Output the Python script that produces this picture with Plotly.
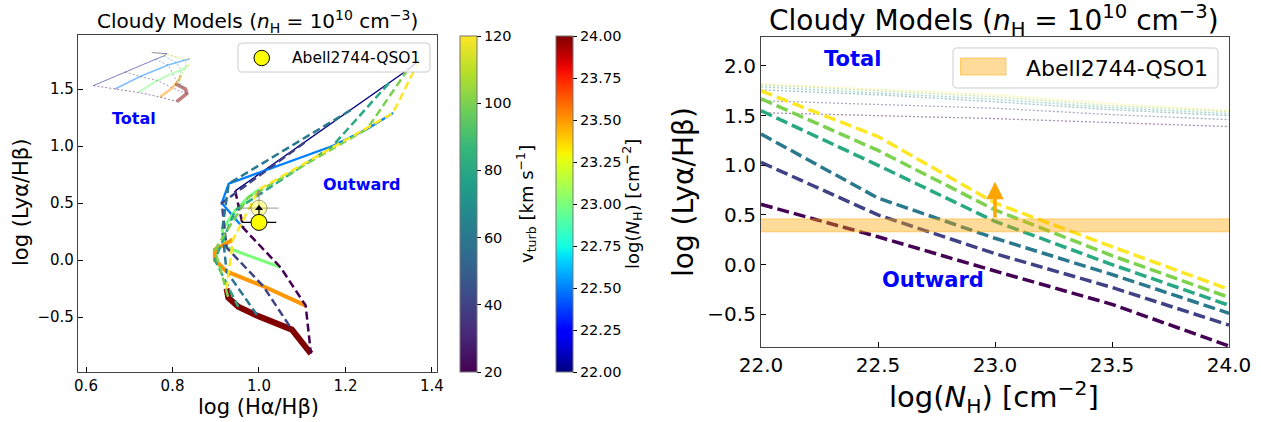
import numpy as np
import plotly.graph_objects as go

W, H = 1261, 422

# ---------------- data ----------------
vturb = [20, 40, 60, 80, 100, 120]
log_nh = [22.0, 22.5, 23.0, 23.5, 24.0]

# Outward log(Lya/Hb) per vturb, along log_nh
lya_out_v20 = [0.607, 0.28, -0.065, -0.40, -0.82]
lya_out_v40 = [1.03, 0.50, 0.11, -0.23, -0.61]
lya_out_v60 = [1.315, 0.67, 0.265, -0.10, -0.49]
lya_out_v80 = [1.55, 1.00, 0.435, 0.0, -0.41]
lya_out_v100 = [1.67, 1.15, 0.55, 0.09, -0.33]
lya_out_v120 = [1.75, 1.29, 0.62, 0.18, -0.25]

# Outward log(Ha/Hb)
ha_out_v20 = [0.945, 0.964, 1.05, 1.108, 1.12]
ha_out_v40 = [1.105, 0.914, 0.925, 1.01, 1.076]
ha_out_v60 = [1.212, 0.93, 0.915, 0.925, 0.997]
ha_out_v80 = [1.30, 1.17, 0.945, 0.898, 0.952]
ha_out_v100 = [1.344, 1.25, 0.975, 0.898, 0.929]
ha_out_v120 = [1.37, 1.31, 1.0, 0.94, 0.925]

# Total log(Lya/Hb)
lya_tot_v20 = [1.53, 1.50, 1.47, 1.43, 1.39]
lya_tot_v40 = [1.65, 1.61, 1.575, 1.51, 1.46]
lya_tot_v60 = [1.76, 1.71, 1.64, 1.56, 1.50]
lya_tot_v80 = [1.79, 1.73, 1.665, 1.58, 1.52]
lya_tot_v100 = [1.81, 1.75, 1.69, 1.60, 1.54]
lya_tot_v120 = [1.82, 1.765, 1.71, 1.62, 1.55]

# Total log(Ha/Hb)
ha_tot_v20 = [0.617, 0.667, 0.721, 0.771, 0.81]
ha_tot_v40 = [0.69, 0.725, 0.765, 0.80, 0.833]
ha_tot_v60 = [0.76, 0.79, 0.80, 0.81, 0.83]
ha_tot_v80 = [0.78, 0.81, 0.82, 0.815, 0.82]
ha_tot_v100 = [0.787, 0.83, 0.83, 0.817, 0.81]
ha_tot_v120 = [0.752, 0.84, 0.837, 0.82, 0.81]

# Observation (Abell2744-QSO1)
obs_name = "Abell2744-QSO1"
obs_ha = [1.0, 1.0]
obs_ha_err = [0.04, 0.045]
obs_lya = [0.33, 0.455]
obs_lya_arrow = [0.455, 0.585]
obs_band = [0.33, 0.46]
obs_arrow_nh = 23.0
obs_arrow_top = 0.835

# tick labels
left_xticks = [0.6, 0.8, 1.0, 1.2, 1.4]
left_yticks = [-0.5, 0.0, 0.5, 1.0, 1.5]
right_xticks = [22.0, 22.5, 23.0, 23.5, 24.0]
right_yticks = [-0.5, 0.0, 0.5, 1.0, 1.5, 2.0]
vturb_ticks = [20, 40, 60, 80, 100, 120]
nh_ticks = [22.0, 22.25, 22.5, 22.75, 23.0, 23.25, 23.5, 23.75, 24.0]

lya_out = [lya_out_v20, lya_out_v40, lya_out_v60, lya_out_v80, lya_out_v100, lya_out_v120]
ha_out = [ha_out_v20, ha_out_v40, ha_out_v60, ha_out_v80, ha_out_v100, ha_out_v120]
lya_tot = [lya_tot_v20, lya_tot_v40, lya_tot_v60, lya_tot_v80, lya_tot_v100, lya_tot_v120]
ha_tot = [ha_tot_v20, ha_tot_v40, ha_tot_v60, ha_tot_v80, ha_tot_v100, ha_tot_v120]

# ---------------- colours ----------------
VIRIDIS = ["#440154", "#482878", "#3e4989", "#31688e", "#26828e", "#1f9e89",
           "#35b779", "#6ece58", "#b5de2b", "#fde725"]


def hex2rgb(h):
    return tuple(int(h[i:i + 2], 16) for i in (1, 3, 5))


def viridis(t):
    n = len(VIRIDIS) - 1
    p = t * n
    i = min(int(np.floor(p)), n - 1)
    f = p - i
    a, b = hex2rgb(VIRIDIS[i]), hex2rgb(VIRIDIS[i + 1])
    return tuple(a[k] + (b[k] - a[k]) * f for k in range(3))


def jet(t):
    r = np.interp(t, [0, 0.35, 0.66, 0.89, 1], [0, 0, 1, 1, 0.5])
    g = np.interp(t, [0, 0.125, 0.375, 0.64, 0.91, 1], [0, 0, 1, 1, 0, 0])
    b = np.interp(t, [0, 0.11, 0.34, 0.65, 1], [0.5, 1, 1, 0, 0])
    return (r * 255, g * 255, b * 255)


def rgba(c, a=1.0):
    return "rgba(%d,%d,%d,%.3f)" % (round(c[0]), round(c[1]), round(c[2]), a)


vcols = [viridis((v - 20) / 100) for v in vturb]
ncols = [jet((n - 22) / 2) for n in log_nh]
jet_scale = [[t, rgba(jet(t))] for t in np.linspace(0, 1, 41)]

FONT = "DejaVu Sans"

fig = go.Figure()

# ---------------- left panel ----------------
nh_w_out = [1.3, 2.3, 3.0, 4.0, 6.0]
nh_w_tot = [1.0, 1.6, 2.0, 2.6, 3.6]

# total grid (faded)
for j in range(len(log_nh)):
    fig.add_trace(go.Scatter(
        x=[ha_tot[i][j] for i in range(len(vturb))],
        y=[lya_tot[i][j] for i in range(len(vturb))],
        mode="lines", line=dict(color=rgba(ncols[j], 0.5), width=nh_w_tot[j]),
        showlegend=False, hoverinfo="skip", xaxis="x", yaxis="y"))
for i in range(len(vturb)):
    fig.add_trace(go.Scatter(
        x=ha_tot[i], y=lya_tot[i], mode="lines",
        line=dict(color=rgba(vcols[i], 0.5), width=1.0, dash="2px,2px"),
        showlegend=False, hoverinfo="skip", xaxis="x", yaxis="y"))

# outward grid
for j in range(len(log_nh)):
    fig.add_trace(go.Scatter(
        x=[ha_out[i][j] for i in range(len(vturb))],
        y=[lya_out[i][j] for i in range(len(vturb))],
        mode="lines", line=dict(color=rgba(ncols[j]), width=nh_w_out[j]),
        showlegend=False, hoverinfo="skip", xaxis="x", yaxis="y"))
for i in range(len(vturb)):
    fig.add_trace(go.Scatter(
        x=ha_out[i], y=lya_out[i], mode="lines",
        line=dict(color=rgba(vcols[i]), width=2.5, dash="8px,4px"),
        showlegend=False, hoverinfo="skip", xaxis="x", yaxis="y"))

# observation: faded point then solid point
for k, (alpha, ecol) in enumerate([(0.35, "rgba(120,120,120,0.6)"), (1.0, "black")]):
    idx = 1 - k
    fig.add_trace(go.Scatter(
        x=[obs_ha[idx] - obs_ha_err[idx], obs_ha[idx] + obs_ha_err[idx]],
        y=[obs_lya[idx], obs_lya[idx]], mode="lines",
        line=dict(color=ecol, width=1.2), showlegend=False, hoverinfo="skip",
        xaxis="x", yaxis="y"))
    fig.add_trace(go.Scatter(
        x=[obs_ha[idx], obs_ha[idx]], y=[obs_lya[idx], obs_lya_arrow[idx]],
        mode="lines", line=dict(color=ecol, width=1.2), showlegend=False,
        hoverinfo="skip", xaxis="x", yaxis="y"))
    fig.add_trace(go.Scatter(
        x=[obs_ha[idx]], y=[obs_lya[idx]], mode="markers",
        marker=dict(size=16, color=rgba((255, 255, 0), alpha),
                    line=dict(color=rgba((0, 0, 0), alpha), width=1)),
        name=obs_name, showlegend=False, hoverinfo="skip", xaxis="x", yaxis="y"))
    fig.add_trace(go.Scatter(
        x=[obs_ha[idx]], y=[obs_lya_arrow[idx]], mode="markers",
        marker=dict(symbol="triangle-up", size=7, color=ecol),
        showlegend=False, hoverinfo="skip", xaxis="x", yaxis="y"))

# colorbars (dummy traces)
cb_common = dict(xanchor="left", xpad=0, ypad=0, y=1 - 204 / H, yanchor="middle",
                 len=336 / H, thickness=17, outlinewidth=1, outlinecolor="#777",
                 ticks="outside", ticklen=4, tickcolor="black",
                 tickfont=dict(family=FONT, size=14.5, color="black"))
fig.add_trace(go.Scatter(
    x=[-5], y=[-5], mode="markers", xaxis="x", yaxis="y", showlegend=False,
    hoverinfo="skip",
    marker=dict(color=[20], cmin=20, cmax=120, colorscale="Viridis", showscale=True,
                colorbar=dict(x=460 / W, tickvals=vturb_ticks, **cb_common))))
fig.add_trace(go.Scatter(
    x=[-5], y=[-5], mode="markers", xaxis="x", yaxis="y", showlegend=False,
    hoverinfo="skip",
    marker=dict(color=[22], cmin=22, cmax=24, colorscale=jet_scale, showscale=True,
                colorbar=dict(x=556 / W, tickvals=nh_ticks, tickformat=".2f",
                              **cb_common))))

# ---------------- right panel ----------------
for i in range(len(vturb)):
    fig.add_trace(go.Scatter(
        x=log_nh, y=lya_tot[i], mode="lines",
        line=dict(color=rgba(vcols[i], 0.45), width=1.3, dash="2px,2px"),
        showlegend=False, hoverinfo="skip", xaxis="x2", yaxis="y2"))
for i in range(len(vturb)):
    fig.add_trace(go.Scatter(
        x=log_nh, y=lya_out[i], mode="lines",
        line=dict(color=rgba(vcols[i]), width=3.5, dash="12px,5px"),
        showlegend=False, hoverinfo="skip", xaxis="x2", yaxis="y2"))

fig.add_trace(go.Scatter(
    x=[log_nh[0], log_nh[-1]], y=[obs_band[0], obs_band[0]], mode="lines",
    line=dict(color="rgba(255,165,0,0.5)", width=1), showlegend=False,
    hoverinfo="skip", xaxis="x2", yaxis="y2"))
fig.add_trace(go.Scatter(
    x=[log_nh[0], log_nh[-1]], y=[obs_band[1], obs_band[1]], mode="lines",
    fill="tonexty", fillcolor="rgba(255,165,0,0.4)",
    line=dict(color="rgba(255,165,0,0.5)", width=1), name=obs_name,
    showlegend=False, hoverinfo="skip", xaxis="x2", yaxis="y2"))

TITLE = "Cloudy Models (<i>n</i><sub>H</sub> = 10<sup>10</sup> cm<sup>−3</sup>)"


def ptxt(x, y, text, size, angle=0, color="black", xanchor="center"):
    return dict(x=x / W, y=1 - y / H, xref="paper", yref="paper", text=text,
                showarrow=False, xanchor=xanchor, yanchor="middle", textangle=angle,
                font=dict(family=FONT, size=size, color=color))


annotations = [
    dict(x=obs_arrow_nh, y=obs_arrow_top, ax=obs_arrow_nh, ay=obs_band[1],
         xref="x2", yref="y2", axref="x2", ayref="y2", showarrow=True,
         arrowhead=2, arrowsize=1, arrowwidth=3.5, arrowcolor="orange", text=""),
    dict(x=0.711, y=1.245, xref="x", yref="y", text="<b>Total</b>", showarrow=False,
         font=dict(family=FONT, size=16, color="blue")),
    dict(x=1.238, y=0.66, xref="x", yref="y", text="<b>Outward</b>", showarrow=False,
         font=dict(family=FONT, size=16, color="blue")),
    dict(x=22.39, y=2.07, xref="x2", yref="y2", text="<b>Total</b>", showarrow=False,
         font=dict(family=FONT, size=21, color="blue")),
    dict(x=22.735, y=-0.155, xref="x2", yref="y2", text="<b>Outward</b>", showarrow=False,
         font=dict(family=FONT, size=21, color="blue")),
    ptxt(257, 22, TITLE, 20),
    ptxt(994, 20, TITLE, 28),
    ptxt(258, 407, "log (Hα/Hβ)", 21),
    ptxt(21, 203, "log (Lyα/Hβ)", 21, -90),
    ptxt(994, 397, "log(<i>N</i><sub>H</sub>) [cm<sup>−2</sup>]", 29),
    ptxt(683, 192, "log (Lyα/Hβ)", 28, -90),
    ptxt(526, 204, "v<sub>turb</sub> [km s<sup>−1</sup>]", 18, -90),
    ptxt(632, 204, "log(<i>N</i><sub>H</sub>) [cm<sup>−2</sup>]", 18, -90),
    # legend texts
    ptxt(290, 58, obs_name, 15.5, xanchor="left"),
    ptxt(1024, 68, obs_name, 22, xanchor="left"),
]


def rounded_box(x0, y0, x1, y1, r=4):
    """Rounded legend frame in pixel coords -> paper path."""
    def P(x, y):
        return "%.5f,%.5f" % (x / W, 1 - y / H)
    return ("M " + P(x0 + r, y0) + " L " + P(x1 - r, y0) + " Q " + P(x1, y0) + " " + P(x1, y0 + r) +
            " L " + P(x1, y1 - r) + " Q " + P(x1, y1) + " " + P(x1 - r, y1) +
            " L " + P(x0 + r, y1) + " Q " + P(x0, y1) + " " + P(x0, y1 - r) +
            " L " + P(x0, y0 + r) + " Q " + P(x0, y0) + " " + P(x0 + r, y0) + " Z")


shapes = [
    dict(type="path", xref="paper", yref="paper", path=rounded_box(238, 43, 430, 72),
         fillcolor="rgba(255,255,255,0.8)", line=dict(color="#cccccc", width=1),
         layer="above"),
    dict(type="circle", xref="paper", yref="paper",
         x0=254 / W, x1=269.5 / W, y0=1 - 65.7 / H, y1=1 - 50.3 / H,
         fillcolor="yellow", line=dict(color="black", width=1), layer="above"),
    dict(type="path", xref="paper", yref="paper", path=rounded_box(953, 48, 1218, 88),
         fillcolor="rgba(255,255,255,0.8)", line=dict(color="#cccccc", width=1),
         layer="above"),
    dict(type="rect", xref="paper", yref="paper",
         x0=960.5 / W, x1=1006 / W, y0=1 - 75 / H, y1=1 - 58 / H,
         fillcolor="rgba(255,165,0,0.4)", line=dict(color="rgba(255,165,0,0.5)", width=1),
         layer="above"),
]

axis_common = dict(showline=True, linecolor="#444", linewidth=1.2, mirror=True,
                   ticks="inside", ticklen=5, tickcolor="black", showgrid=False,
                   zeroline=False, automargin=False)

fig.update_layout(
    width=W, height=H, margin=dict(l=0, r=0, t=0, b=0, autoexpand=False),
    paper_bgcolor="white", plot_bgcolor="white", showlegend=False,
    font=dict(family=FONT, color="black"),
    annotations=annotations, shapes=shapes,
    xaxis=dict(domain=[78 / W, 437 / W], range=[0.5815, 1.4116],
               tickvals=left_xticks, tickformat=".1f", tickfont=dict(size=15),
               anchor="y", **axis_common),
    yaxis=dict(domain=[1 - 372 / H, 1 - 35 / H], range=[-0.982, 1.974],
               tickvals=left_yticks, tickformat=".1f", tickfont=dict(size=15),
               anchor="x", **axis_common),
    xaxis2=dict(domain=[761 / W, 1229 / W], range=[22.0, 24.0],
                tickvals=right_xticks, tickformat=".1f", tickfont=dict(size=20),
                anchor="y2", **axis_common),
    yaxis2=dict(domain=[1 - 347 / H, 1 - 37 / H], range=[-0.83, 2.292],
                tickvals=right_yticks, tickformat=".1f", tickfont=dict(size=20),
                anchor="x2", **axis_common),
)

fig.write_html("out.html", config={"displayModeBar": False})
